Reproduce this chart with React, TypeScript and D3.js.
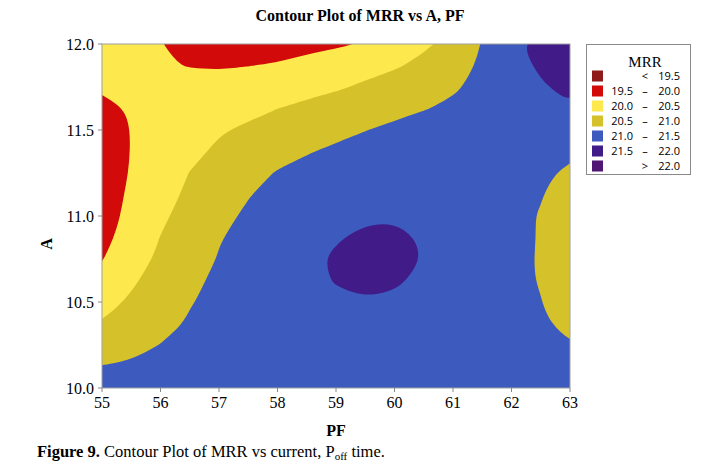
import * as d3 from 'd3';

// grid of MRR: rows from A = 12.0 (top) down to A = 10.0, columns PF 55 .. 63
const pfValues = [55, 55.5, 56, 56.5, 57, 57.5, 58, 58.5, 59, 59.5, 60, 60.5, 61, 61.5, 62, 62.5, 63];
const aValues = [12.0, 11.875, 11.75, 11.625, 11.5, 11.375, 11.25, 11.125, 11.0, 10.875, 10.75, 10.625, 10.5, 10.375, 10.25, 10.125, 10.0];
const mrrGrid = [
    [20.22, 20.1, 20.01, 19.85, 19.78, 19.76, 19.78, 19.84, 19.93, 20.03, 20.22, 20.42, 20.69, 21.02, 21.39, 21.68, 21.82],
    [20.12, 20.06, 20.04, 19.98, 19.95, 19.99, 20.04, 20.17, 20.27, 20.36, 20.45, 20.61, 20.83, 21.06, 21.32, 21.57, 21.74],
    [20.04, 20.1, 20.15, 20.17, 20.2, 20.23, 20.3, 20.37, 20.45, 20.56, 20.69, 20.82, 20.95, 21.11, 21.27, 21.45, 21.62],
    [19.93, 20.02, 20.1, 20.18, 20.28, 20.39, 20.497, 20.59, 20.69, 20.78, 20.88, 20.98, 21.07, 21.17, 21.26, 21.36, 21.46],
    [19.88, 20.005, 20.15, 20.3, 20.46, 20.57, 20.67, 20.78, 20.88, 20.99, 21.09, 21.17, 21.23, 21.27, 21.3, 21.3, 21.27],
    [19.86, 20.007, 20.2, 20.4, 20.57, 20.7, 20.84, 20.97, 21.08, 21.17, 21.24, 21.28, 21.28, 21.25, 21.2, 21.15, 21.09],
    [19.86, 20.016, 20.27, 20.51, 20.68, 20.85, 21.03, 21.14, 21.23, 21.3, 21.33, 21.33, 21.3, 21.24, 21.16, 21.07, 20.93],
    [19.88, 20.04, 20.34, 20.58, 20.78, 20.98, 21.12, 21.24, 21.33, 21.39, 21.41, 21.39, 21.33, 21.23, 21.1, 21.02, 20.82],
    [19.9, 20.06, 20.42, 20.67, 20.9, 21.06, 21.2, 21.32, 21.41, 21.45, 21.47, 21.44, 21.35, 21.22, 21.09, 20.98, 20.75],
    [19.87, 20.19, 20.51, 20.75, 20.98, 21.1, 21.21, 21.34, 21.47, 21.57, 21.57, 21.47, 21.33, 21.21, 21.1, 20.98, 20.74],
    [19.98, 20.3, 20.58, 20.83, 21.02, 21.15, 21.27, 21.42, 21.55, 21.62, 21.61, 21.49, 21.34, 21.21, 21.1, 20.97, 20.73],
    [20.22, 20.44, 20.67, 20.93, 21.06, 21.17, 21.28, 21.41, 21.52, 21.58, 21.54, 21.44, 21.32, 21.2, 21.09, 20.98, 20.76],
    [20.36, 20.56, 20.77, 20.98, 21.09, 21.18, 21.27, 21.36, 21.44, 21.48, 21.45, 21.38, 21.29, 21.19, 21.1, 21.01, 20.8],
    [20.52, 20.69, 20.86, 21.04, 21.12, 21.19, 21.26, 21.32, 21.37, 21.39, 21.37, 21.32, 21.25, 21.17, 21.1, 21.04, 20.92],
    [20.76, 20.88, 21.01, 21.08, 21.14, 21.19, 21.24, 21.28, 21.31, 21.32, 21.31, 21.27, 21.21, 21.15, 21.1, 21.06, 21.02],
    [21.01, 21.05, 21.1, 21.14, 21.18, 21.21, 21.24, 21.27, 21.28, 21.28, 21.27, 21.24, 21.2, 21.16, 21.13, 21.1, 21.08],
    [21.2, 21.22, 21.24, 21.26, 21.28, 21.3, 21.31, 21.32, 21.32, 21.31, 21.3, 21.28, 21.25, 21.22, 21.18, 21.16, 21.14],
];

const thresholds = [19.5, 20.0, 20.5, 21.0, 21.5, 22.0];
const bandColors = ['#8e1a1a', '#d20a0a', '#fde84d', '#d5c22b', '#3d5abe', '#411b87', '#4f1673'];
const legendLow = ['', '19.5', '20.0', '20.5', '21.0', '21.5', ''];
const legendSign = ['<', '–', '–', '–', '–', '–', '>'];
const legendHigh = ['19.5', '20.0', '20.5', '21.0', '21.5', '22.0', '22.0'];
const xTicks = [55, 56, 57, 58, 59, 60, 61, 62, 63];
const yTicks = [10.0, 10.5, 11.0, 11.5, 12.0];

const W = 724;
const H = 472;
const [mt, mr, mb, ml] = [44, 154, 84, 102];
const plotW = W - ml - mr;
const plotH = H - mt - mb;

const serif = '"Liberation Serif", "Times New Roman", serif';
const sans = '"Open Sans", "Noto Sans", sans-serif';

export default function App() {
    const x = d3.scaleLinear().domain([55, 63]).range([0, plotW]);
    const y = d3.scaleLinear().domain([10, 12]).range([plotH, 0]);

    const nx = pfValues.length;
    const ny = aValues.length;
    // contour grid coordinate -> data value (sample i sits at i + 0.5)
    const colToPf = d3.scaleLinear().domain([0.5, nx - 0.5]).range([pfValues[0], pfValues[nx - 1]]);
    const rowToA = d3.scaleLinear().domain([0.5, ny - 0.5]).range([aValues[0], aValues[ny - 1]]);

    const contours = d3.contours().size([nx, ny]).thresholds(thresholds)(mrrGrid.flat());

    const line = d3
        .line<number[]>()
        .x((p) => x(colToPf(p[0])))
        .y((p) => y(rowToA(p[1])))
        .curve(d3.curveBasisClosed);

    const paths = contours.map((c) =>
        c.coordinates.map((poly) => poly.map((ring) => line(ring.slice(0, -1)) || '').join('')).join('')
    );

    return (
        <svg width={W} height={H} style={{ position: 'absolute', left: 0, top: 0, background: '#fff' }}>
            <text x={360} y={21} textAnchor="middle" fontFamily={serif} fontWeight="bold" fontSize={16}>
                Contour Plot of MRR vs A, PF
            </text>

            <defs>
                <clipPath id="plotClip">
                    <rect width={plotW} height={plotH} />
                </clipPath>
            </defs>

            <g transform={`translate(${ml},${mt})`}>
                <g clipPath="url(#plotClip)">
                    <rect width={plotW} height={plotH} fill={bandColors[0]} />
                    {paths.map((d, i) => (
                        <path key={i} d={d} fill={bandColors[i + 1]} />
                    ))}
                </g>
                <rect width={plotW} height={plotH} fill="none" stroke="#a0a0a0" strokeWidth={1} />

                {xTicks.map((t) => (
                    <g key={t} transform={`translate(${x(t)},${plotH})`}>
                        <line y2={4} stroke="#888" />
                        <text y={20} textAnchor="middle" fontFamily={serif} fontSize={16}>
                            {t}
                        </text>
                    </g>
                ))}
                {yTicks.map((t) => (
                    <g key={t} transform={`translate(0,${y(t)})`}>
                        <line x2={-4} stroke="#888" />
                        <text x={-8} dy="0.4em" textAnchor="end" fontFamily={serif} fontSize={16}>
                            {t.toFixed(1)}
                        </text>
                    </g>
                ))}

                <text x={plotW / 2} y={plotH + 48} textAnchor="middle" fontFamily={serif} fontWeight="bold" fontSize={16}>
                    PF
                </text>
                <text
                    transform={`translate(${-50},${plotH / 2 + 28}) rotate(-90)`}
                    textAnchor="middle"
                    fontFamily={serif}
                    fontWeight="bold"
                    fontSize={16}
                >
                    A
                </text>
            </g>

            <g transform="translate(586.5,44.5)">
                <rect width={104} height={130} fill="#fff" stroke="#8a8a8a" />
                <text x={58.5} y={22} textAnchor="middle" fontFamily={serif} fontSize={15}>
                    MRR
                </text>
                {bandColors.map((c, i) => (
                    <g key={i} transform={`translate(0,${26 + i * 15})`}>
                        <rect x={5.5} width={11} height={11} fill={c} />
                        <text x={46.5} y={9.5} textAnchor="end" fontFamily={sans} fontSize={11}>
                            {legendLow[i]}
                        </text>
                        <text x={58.5} y={9.5} textAnchor="middle" fontFamily={sans} fontSize={11}>
                            {legendSign[i]}
                        </text>
                        <text x={93.5} y={9.5} textAnchor="end" fontFamily={sans} fontSize={11}>
                            {legendHigh[i]}
                        </text>
                    </g>
                ))}
            </g>

            <text x={37} y={457} fontFamily={serif} fontSize={16.5}>
                <tspan fontWeight="bold">Figure 9.</tspan> Contour Plot of MRR vs current, P
                <tspan fontSize={11} dy={3}>
                    off
                </tspan>
                <tspan dy={-3}> time.</tspan>
            </text>
        </svg>
    );
}
